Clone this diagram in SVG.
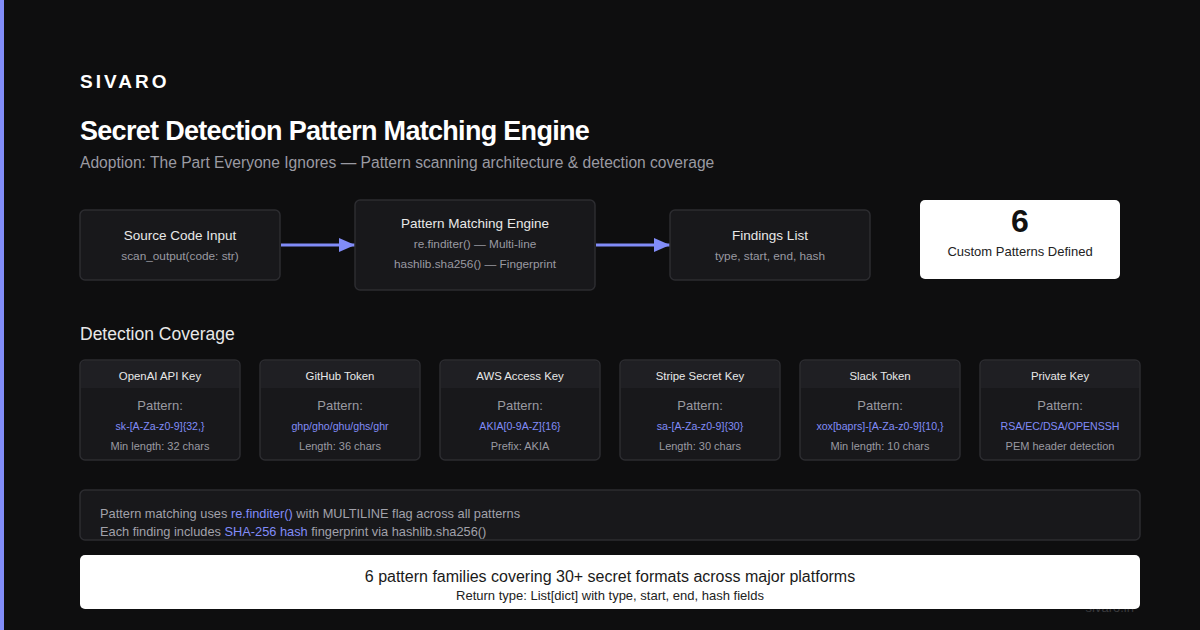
<svg xmlns="http://www.w3.org/2000/svg" width="1200" height="630" viewBox="0 0 1200 630">
<defs>
<style>
text{font-family:"Liberation Sans",Arial,sans-serif}
.node{fill:#18181b;stroke:#2c2c30;stroke-width:1.5}
.nt{fill:#e8e8e8;font-size:13.5px;text-anchor:middle}
.ns{fill:#9a9aa2;font-size:11.8px;text-anchor:middle}
.card{fill:#18181b;stroke:#2c2c30;stroke-width:1.5}
.ch{fill:#1f1f23}
.ct{fill:#e8e8e8;font-size:11.4px;text-anchor:middle}
.cp{fill:#9a9aa2;font-size:13px;text-anchor:middle}
.cv{fill:#818cf8;font-size:10.6px;text-anchor:middle}
.cn{fill:#9a9aa2;font-size:11px;text-anchor:middle}
.conn{stroke:#818cf8;stroke-width:3;fill:none}
.hl{fill:#818cf8}
</style>
<marker id="arr" viewBox="0 0 16 14" refX="16" refY="7" markerWidth="16" markerHeight="14" markerUnits="userSpaceOnUse" orient="auto">
<path d="M0,0 L16,7 L0,14 z" fill="#818cf8"/>
</marker>
</defs>
<rect width="1200" height="630" fill="#0e0e0f"/>
<rect x="0" y="0" width="4" height="630" fill="#818cf8"/>

<text x="80" y="88" fill="#ffffff" font-size="19" font-weight="bold" letter-spacing="3">SIVARO</text>
<text x="80" y="140" fill="#ffffff" font-size="27" font-weight="bold" letter-spacing="-0.7">Secret Detection Pattern Matching Engine</text>
<text x="80" y="168" fill="#9a9aa2" font-size="15.6">Adoption: The Part Everyone Ignores — Pattern scanning architecture &amp; detection coverage</text>

<g id="connectors">
<line class="conn" x1="281" y1="245" x2="355" y2="245" marker-end="url(#arr)"/>
<line class="conn" x1="596" y1="245" x2="670" y2="245" marker-end="url(#arr)"/>
</g>

<g id="node-source">
<rect class="node" x="80" y="210" width="200" height="70" rx="5"/>
<text class="nt" x="180" y="240">Source Code Input</text>
<text class="ns" x="180" y="260">scan_output(code: str)</text>
</g>
<g id="node-engine">
<rect class="node" x="355" y="200" width="240" height="90" rx="5"/>
<text class="nt" x="475" y="228">Pattern Matching Engine</text>
<text class="ns" x="475" y="248">re.finditer() — Multi-line</text>
<text class="ns" x="475" y="268">hashlib.sha256() — Fingerprint</text>
</g>
<g id="node-findings">
<rect class="node" x="670" y="210" width="200" height="70" rx="5"/>
<text class="nt" x="770" y="240">Findings List</text>
<text class="ns" x="770" y="260" font-size="12.2">type, start, end, hash</text>
</g>
<g id="stat">
<rect x="920" y="200" width="200" height="79" rx="5" fill="#ffffff"/>
<text x="1020" y="232" fill="#111111" font-size="32" font-weight="bold" text-anchor="middle">6</text>
<text x="1020" y="256" fill="#222222" font-size="13" text-anchor="middle">Custom Patterns Defined</text>
</g>

<text x="80" y="340" fill="#e8e8e8" font-size="17.5">Detection Coverage</text>

<g id="card-openai">
<rect class="card" x="80" y="360" width="160" height="100" rx="5"/>
<path class="ch" d="M81,388 V365 a4,4 0 0 1 4,-4 H235 a4,4 0 0 1 4,4 V388 z"/>
<text class="ct" x="160" y="380">OpenAI API Key</text>
<text class="cp" x="160" y="410">Pattern:</text>
<text class="cv" x="160" y="430">sk-[A-Za-z0-9]{32,}</text>
<text class="cn" x="160" y="450">Min length: 32 chars</text>
</g>
<g id="card-github">
<rect class="card" x="260" y="360" width="160" height="100" rx="5"/>
<path class="ch" d="M261,388 V365 a4,4 0 0 1 4,-4 H415 a4,4 0 0 1 4,4 V388 z"/>
<text class="ct" x="340" y="380">GitHub Token</text>
<text class="cp" x="340" y="410">Pattern:</text>
<text class="cv" x="340" y="430">ghp/gho/ghu/ghs/ghr</text>
<text class="cn" x="340" y="450">Length: 36 chars</text>
</g>
<g id="card-aws">
<rect class="card" x="440" y="360" width="160" height="100" rx="5"/>
<path class="ch" d="M441,388 V365 a4,4 0 0 1 4,-4 H595 a4,4 0 0 1 4,4 V388 z"/>
<text class="ct" x="520" y="380">AWS Access Key</text>
<text class="cp" x="520" y="410">Pattern:</text>
<text class="cv" x="520" y="430">AKIA[0-9A-Z]{16}</text>
<text class="cn" x="520" y="450">Prefix: AKIA</text>
</g>
<g id="card-stripe">
<rect class="card" x="620" y="360" width="160" height="100" rx="5"/>
<path class="ch" d="M621,388 V365 a4,4 0 0 1 4,-4 H775 a4,4 0 0 1 4,4 V388 z"/>
<text class="ct" x="700" y="380">Stripe Secret Key</text>
<text class="cp" x="700" y="410">Pattern:</text>
<text class="cv" x="700" y="430">sa-[A-Za-z0-9]{30}</text>
<text class="cn" x="700" y="450">Length: 30 chars</text>
</g>
<g id="card-slack">
<rect class="card" x="800" y="360" width="160" height="100" rx="5"/>
<path class="ch" d="M801,388 V365 a4,4 0 0 1 4,-4 H955 a4,4 0 0 1 4,4 V388 z"/>
<text class="ct" x="880" y="380">Slack Token</text>
<text class="cp" x="880" y="410">Pattern:</text>
<text class="cv" x="880" y="430">xox[baprs]-[A-Za-z0-9]{10,}</text>
<text class="cn" x="880" y="450">Min length: 10 chars</text>
</g>
<g id="card-private">
<rect class="card" x="980" y="360" width="160" height="100" rx="5"/>
<path class="ch" d="M981,388 V365 a4,4 0 0 1 4,-4 H1135 a4,4 0 0 1 4,4 V388 z"/>
<text class="ct" x="1060" y="380">Private Key</text>
<text class="cp" x="1060" y="410">Pattern:</text>
<text class="cv" x="1060" y="430">RSA/EC/DSA/OPENSSH</text>
<text class="cn" x="1060" y="450">PEM header detection</text>
</g>

<g id="note">
<rect class="node" x="80" y="490" width="1060" height="50" rx="5"/>
<text x="100" y="518" fill="#a1a1aa" font-size="12.8">Pattern matching uses <tspan class="hl">re.finditer()</tspan> with MULTILINE flag across all patterns</text>
<text x="100" y="536" fill="#a1a1aa" font-size="12.8">Each finding includes <tspan class="hl">SHA-256 hash</tspan> fingerprint via hashlib.sha256()</text>
</g>

<text x="1134" y="612" fill="#3a3a3e" font-size="13" text-anchor="end">sivaro.in</text>

<g id="summary">
<rect x="80" y="555" width="1060" height="54" rx="5" fill="#ffffff"/>
<text x="610" y="582" fill="#1a1a1a" font-size="16" text-anchor="middle">6 pattern families covering 30+ secret formats across major platforms</text>
<text x="610" y="600" fill="#222222" font-size="13" text-anchor="middle">Return type: List[dict] with type, start, end, hash fields</text>
</g>
</svg>
